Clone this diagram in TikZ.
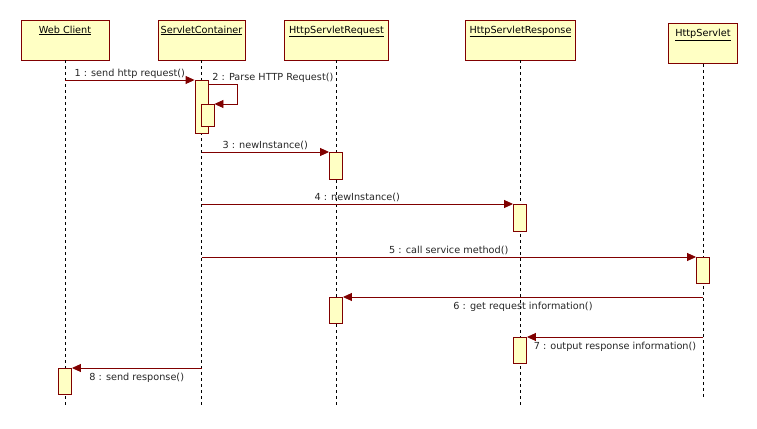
\documentclass[tikz,border=0pt]{standalone}
\usepackage{fontspec}
\setmainfont{DejaVu Sans}
\usepackage{xcolor}
\usepackage{tikz}
\usetikzlibrary{arrows.meta, calc}
\definecolor{umlRed}{RGB}{128,0,0}
\definecolor{umlYellow}{RGB}{255,255,196}
\tikzset{head/.style={rectangle, draw=umlRed, fill=umlYellow, minimum width=#1,
    minimum height=40pt, inner sep=0pt, line width=0.9pt},
head/.default={88pt}}

\begin{document}
\begin{tikzpicture}[x=1pt,y=-1pt,
    font=\fontsize{9.7}{11}\selectfont,
    act/.style={rectangle, draw=umlRed, fill=umlYellow, minimum width=13pt,
      minimum height=#1, inner sep=0pt, anchor=north, line width=0.9pt},
    lifeline/.style={black, line width=0.8pt, dash pattern=on 3pt off 3pt},
    msg/.style={draw=umlRed, line width=0.9pt, -{Triangle[length=9pt,width=8pt]}},
    lbl/.style={text=black!85, inner sep=1.5pt},
    nameText/.style={anchor=north, inner sep=0pt, yshift=-6pt}]

\useasboundingbox (0,0) rectangle (757,428);

%DRAWING OBJECTS
  \node[head=88pt] (wc) at (65,40)
    [label={[nameText]north:\underline{Web Client}}] {};
  \node[head=87pt] (sc) at (201.5,40)
    [label={[nameText]north:\underline{ServletContainer}}] {};
  \node[head=104pt] (req) at (336.5,40)
    [label={[nameText]north:\underline{HttpServletRequest}}] {};
  \node[head=110pt] (resp) at (520.5,40)
    [label={[nameText]north:\underline{HttpServletResponse}}] {};
  \node[head=69pt] (serv) at (703,43.5)
    [label={[nameText]north:\underline{HttpServlet}}] {};

%DRAWING LIFELINES
  \coordinate (wcEnd) at (65,405);
  \coordinate (scEnd) at (201.5,405);
  \coordinate (reqEnd) at (336.5,405);
  \coordinate (respEnd) at (520.5,405);
  \coordinate (servEnd) at (703,397);

  \draw[lifeline] (wc.south) -- (wcEnd);
  \draw[lifeline] (sc.south) -- (scEnd);
  \draw[lifeline] (req.south) -- (reqEnd);
  \draw[lifeline] (resp.south) -- (respEnd);
  \draw[lifeline] (serv.south) -- (servEnd);

%DRAWING ACTIVATIONS
  \node[act=53pt] (scAct1) at (201.5,80) {};
  \node[act=22pt] (scAct2) at (207.5,104) {};
  \node[act=27pt] (reqAct1) at (336,152) {};
  \node[act=27pt] (respAct1) at (520,204) {};
  \node[act=26pt] (servAct) at (703,257) {};
  \node[act=26pt] (reqAct2) at (336,297) {};
  \node[act=26pt] (respAct2) at (520,337) {};
  \node[act=26pt] (wcAct) at (65,368) {};

%DRAWING MESSAGES
  \draw[msg] (wc.south |- scAct1.north) -- (scAct1.north west)
    node[lbl,midway,above] (m1) {1 : send http request()};

  \coordinate (selfTurn) at (237,84);
  \draw[msg] (scAct1.east |- selfTurn)
    node[lbl,anchor=south west,xshift=2pt] (m2) {2 : Parse HTTP Request()}
    -- (selfTurn) |- (scAct2.north east);

  \draw[msg] (sc.south |- reqAct1.north) -- (reqAct1.north west)
    node[lbl,midway,above] (m3) {3 : newInstance()};

  \draw[msg] (sc.south |- respAct1.north) -- (respAct1.north west)
    node[lbl,midway,above] (m4) {4 : newInstance()};

  \draw[msg] (sc.south |- servAct.north) -- (servAct.north west)
    node[lbl,midway,above] (m5) {5 : call service method()};

  \draw[msg] (serv.south |- reqAct2.north) -- (reqAct2.north east)
    node[lbl,midway,below,yshift=-3pt] (m6) {6 : get request information()};

  \draw[msg] (serv.south |- respAct2.north) -- (respAct2.north east)
    node[lbl,midway,below,yshift=-3pt] (m7) {7 : output response information()};

  \draw[msg] (sc.south |- wcAct.north) -- (wcAct.north east)
    node[lbl,midway,below,yshift=-3pt] (m8) {8 : send response()};

\end{tikzpicture}
\end{document}
